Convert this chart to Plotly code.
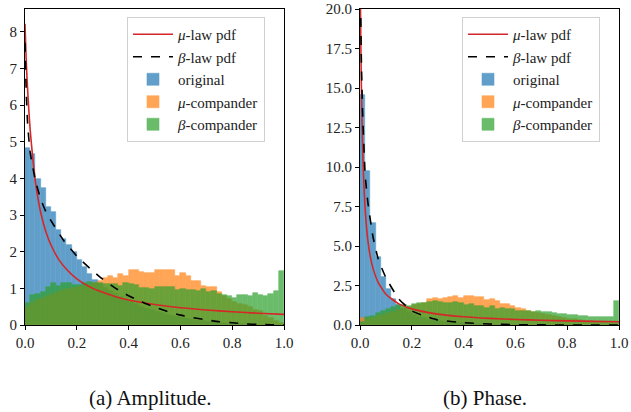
import numpy as np
import plotly.graph_objects as go

# ---------------- data ----------------
bin_edges = np.linspace(0.0, 1.0, 51)
bin_centers = (bin_edges[:-1] + bin_edges[1:]) / 2
bin_width = 0.02

amp_original = [4.84, 4.66, 3.98, 3.73, 3.22, 3.07, 2.60, 2.35, 2.17, 1.98,
                1.76, 1.59, 1.38, 1.24, 1.12, 1.02, 0.92, 0.84, 0.76, 0.68,
                0.62, 0.56, 0.50, 0.45, 0.40, 0.36, 0.32, 0.28, 0.25, 0.22,
                0.19, 0.17, 0.14, 0.12, 0.10, 0.09, 0.07, 0.06, 0.05, 0.04,
                0.03, 0.03, 0.02, 0.02, 0.01, 0.01, 0.01, 0.00, 0.00, 0.00]
amp_mu = [0.50, 0.60, 0.68, 0.74, 0.80, 0.85, 0.90, 0.95, 0.98, 1.00,
          1.03, 1.07, 1.10, 1.14, 1.20, 1.27, 1.35, 1.27, 1.39, 1.34,
          1.50, 1.50, 1.45, 1.43, 1.43, 1.50, 1.50, 1.50, 1.50, 1.35,
          1.43, 1.33, 1.20, 1.21, 1.06, 1.03, 1.03, 0.90, 0.80, 0.70,
          0.62, 0.58, 0.55, 0.50, 0.40, 0.38, 0.25, 0.20, 0.10, 0.05]
amp_beta = [0.59, 0.81, 0.85, 0.91, 1.05, 1.14, 1.06, 1.15, 1.15, 1.09,
            1.09, 1.15, 1.16, 1.15, 1.14, 1.12, 1.12, 1.12, 1.06, 1.15,
            1.13, 1.09, 1.00, 1.00, 0.98, 1.03, 1.03, 1.03, 1.03, 0.95,
            0.98, 0.95, 0.95, 0.94, 0.97, 0.89, 0.94, 0.84, 0.82, 0.79,
            0.74, 0.82, 0.82, 0.79, 0.87, 0.82, 0.79, 0.85, 0.93, 1.47]

amp_mu_pdf_x = [0.0, 0.003, 0.006, 0.01, 0.015, 0.02, 0.03, 0.04, 0.05, 0.06, 0.08,
                0.10, 0.13, 0.16, 0.20, 0.25, 0.30, 0.35, 0.40, 0.50, 0.60,
                0.70, 0.80, 0.90, 1.00]
amp_mu_pdf_y = [8.22, 7.55, 7.00, 6.44, 5.83, 5.32, 4.55, 3.92, 3.46, 3.09, 2.56,
                2.19, 1.79, 1.52, 1.26, 1.04, 0.89, 0.77, 0.68, 0.56, 0.47,
                0.41, 0.36, 0.32, 0.29]
amp_beta_pdf_x = [0.0, 0.005, 0.01, 0.02, 0.04, 0.06, 0.08, 0.10, 0.15, 0.20,
                  0.25, 0.30, 0.35, 0.40, 0.45, 0.50, 0.55, 0.60, 0.65, 0.70,
                  0.75, 0.80, 0.85, 0.90, 0.95, 1.00]
amp_beta_pdf_y = [7.70, 6.30, 5.50, 4.70, 3.95, 3.45, 3.10, 2.85, 2.30, 1.88,
                  1.55, 1.25, 1.00, 0.80, 0.63, 0.49, 0.37, 0.27, 0.20, 0.14,
                  0.09, 0.06, 0.03, 0.015, 0.005, 0.0]

phase_original = [14.56, 9.77, 6.43, 4.28, 3.02, 2.26, 1.62, 1.25, 1.00, 0.80,
                  0.65, 0.52, 0.42, 0.34, 0.28, 0.23, 0.19, 0.15, 0.12, 0.10,
                  0.08, 0.07, 0.06, 0.05, 0.04, 0.03, 0.03, 0.02, 0.02, 0.02,
                  0.01, 0.01, 0.01, 0.01, 0.01, 0.01, 0.01, 0.01, 0.01, 0.01,
                  0.00, 0.00, 0.00, 0.00, 0.00, 0.00, 0.00, 0.00, 0.00, 0.00]
phase_mu = [0.45, 0.35, 0.45, 0.55, 0.65, 0.75, 0.85, 0.95, 1.05, 1.15,
            1.25, 1.32, 1.38, 1.62, 1.69, 1.67, 1.69, 1.79, 1.84, 1.73,
            1.84, 1.84, 1.75, 1.75, 1.58, 1.62, 1.52, 1.33, 1.33, 1.20,
            1.10, 0.99, 0.86, 0.84, 0.78, 0.70, 0.62, 0.55, 0.50, 0.44,
            0.40, 0.36, 0.32, 0.28, 0.25, 0.22, 0.20, 0.18, 0.15, 0.12]
phase_beta = [0.22, 0.53, 0.59, 0.74, 0.89, 0.99, 1.16, 1.24, 1.24, 1.22,
              1.33, 1.37, 1.37, 1.48, 1.52, 1.48, 1.37, 1.41, 1.46, 1.39,
              1.29, 1.33, 1.22, 1.22, 1.05, 1.20, 0.99, 1.05, 0.99, 0.99,
              0.91, 0.91, 0.86, 0.82, 0.86, 0.82, 0.80, 0.76, 0.70, 0.70,
              0.63, 0.63, 0.57, 0.57, 0.51, 0.51, 0.51, 0.51, 0.51, 1.52]

phase_mu_pdf_x = [0.0, 0.002, 0.005, 0.01, 0.015, 0.02, 0.03, 0.04, 0.05, 0.07,
                  0.10, 0.15, 0.20, 0.30, 0.40, 0.50, 0.60, 0.70, 0.80, 0.90, 1.00]
phase_mu_pdf_y = [24.4, 19.8, 15.4, 11.3, 8.9, 7.3, 5.4, 4.3, 3.6, 2.7,
                  1.95, 1.34, 1.02, 0.69, 0.52, 0.42, 0.35, 0.30, 0.26, 0.23, 0.21]
phase_beta_pdf_x = [0.0, 0.005, 0.01, 0.02, 0.03, 0.05, 0.07, 0.10, 0.15, 0.20,
                    0.25, 0.30, 0.40, 0.50, 0.60, 0.70, 0.80, 0.90, 1.00]
phase_beta_pdf_y = [24.0, 17.0, 13.5, 9.5, 7.8, 5.6, 4.2, 3.0, 1.65, 0.9,
                    0.57, 0.32, 0.15, 0.06, 0.02, 0.01, 0.0, 0.0, 0.0]

x_tick_vals = [0.0, 0.2, 0.4, 0.6, 0.8, 1.0]
x_tick_text = ["0.0", "0.2", "0.4", "0.6", "0.8", "1.0"]
amp_y_ticks = [0, 1, 2, 3, 4, 5, 6, 7, 8]
phase_y_ticks = [0.0, 2.5, 5.0, 7.5, 10.0, 12.5, 15.0, 17.5, 20.0]
phase_y_text = ["0.0", "2.5", "5.0", "7.5", "10.0", "12.5", "15.0", "17.5", "20.0"]
captions = ["(a) Amplitude.", "(b) Phase."]

# ---------------- styling ----------------
FONT = "Liberation Serif"
C_BLUE, C_ORANGE, C_GREEN = "#1f77b4", "#ff7f0e", "#2ca02c"
C_RED = "#d62728"

fig = go.Figure()

panels = [
    dict(xa="x", ya="y", leg="legend", orig=amp_original, mu=amp_mu, beta=amp_beta,
         mx=amp_mu_pdf_x, my=amp_mu_pdf_y, bx=amp_beta_pdf_x, by=amp_beta_pdf_y),
    dict(xa="x2", ya="y2", leg="legend2", orig=phase_original, mu=phase_mu, beta=phase_beta,
         mx=phase_mu_pdf_x, my=phase_mu_pdf_y, bx=phase_beta_pdf_x, by=phase_beta_pdf_y),
]

for p in panels:
    for name, vals, col, rank in [("original", p["orig"], C_BLUE, 3),
                                  ("<i>μ</i>-compander", p["mu"], C_ORANGE, 4),
                                  ("<i>β</i>-compander", p["beta"], C_GREEN, 5)]:
        fig.add_trace(go.Bar(
            x=bin_centers, y=vals, width=bin_width, name=name,
            marker=dict(color=col, line=dict(color=col, width=0.6)),
            opacity=0.7, xaxis=p["xa"], yaxis=p["ya"], legend=p["leg"],
            legendrank=rank))
    fig.add_trace(go.Scatter(
        x=p["mx"], y=p["my"], mode="lines", name="<i>μ</i>-law pdf",
        line=dict(color=C_RED, width=1.6, shape="spline", smoothing=0.5),
        xaxis=p["xa"], yaxis=p["ya"], legend=p["leg"], legendrank=1))
    fig.add_trace(go.Scatter(
        x=p["bx"], y=p["by"], mode="lines", name="<i>β</i>-law pdf",
        line=dict(color="black", width=1.6, dash="dash", shape="spline", smoothing=0.5),
        xaxis=p["xa"], yaxis=p["ya"], legend=p["leg"], legendrank=2))

W, H = 631, 412
ydom = [1 - 325 / H, 1 - 9 / H]

axis_common = dict(showline=True, linecolor="black", linewidth=1, mirror=True,
                   ticks="outside", ticklen=4, tickwidth=1, tickcolor="black",
                   showgrid=False, zeroline=False, automargin=False,
                   tickfont=dict(family=FONT, size=15, color="#222"))

legend_common = dict(bgcolor="rgba(255,255,255,0.85)", bordercolor="#d0d0d0",
                     borderwidth=1, font=dict(family=FONT, size=15, color="#222"),
                     xanchor="left", yanchor="top", itemwidth=40,
                     traceorder="normal")

fig.update_layout(
    width=W, height=H,
    margin=dict(l=0, r=0, t=0, b=0, autoexpand=False),
    paper_bgcolor="white", plot_bgcolor="white",
    barmode="overlay", bargap=0,
    font=dict(family=FONT, size=15, color="#222"),
    xaxis=dict(domain=[25 / W, 284 / W], range=[0, 1], tickvals=x_tick_vals,
               ticktext=x_tick_text, anchor="y", **axis_common),
    yaxis=dict(domain=ydom, range=[0, 8.62], tickvals=amp_y_ticks, anchor="x",
               **axis_common),
    xaxis2=dict(domain=[360 / W, 619 / W], range=[0, 1], tickvals=x_tick_vals,
                ticktext=x_tick_text, anchor="y2", **axis_common),
    yaxis2=dict(domain=ydom, range=[0, 20], tickvals=phase_y_ticks,
                ticktext=phase_y_text, anchor="x2", **axis_common),
    legend=dict(x=127 / W, y=1 - 17 / H, **legend_common),
    legend2=dict(x=462 / W, y=1 - 17 / H, **legend_common),
    annotations=[
        dict(text=captions[0], x=150 / W, y=1 - 398 / H, xref="paper", yref="paper",
             showarrow=False, xanchor="center", yanchor="middle",
             font=dict(family=FONT, size=21, color="#111")),
        dict(text=captions[1], x=485 / W, y=1 - 398 / H, xref="paper", yref="paper",
             showarrow=False, xanchor="center", yanchor="middle",
             font=dict(family=FONT, size=21, color="#111")),
    ],
)

fig.write_html(
    "out.html",
    config={"displayModeBar": False},
    post_script="document.body.style.margin='0';document.body.style.overflow='hidden';",
)
